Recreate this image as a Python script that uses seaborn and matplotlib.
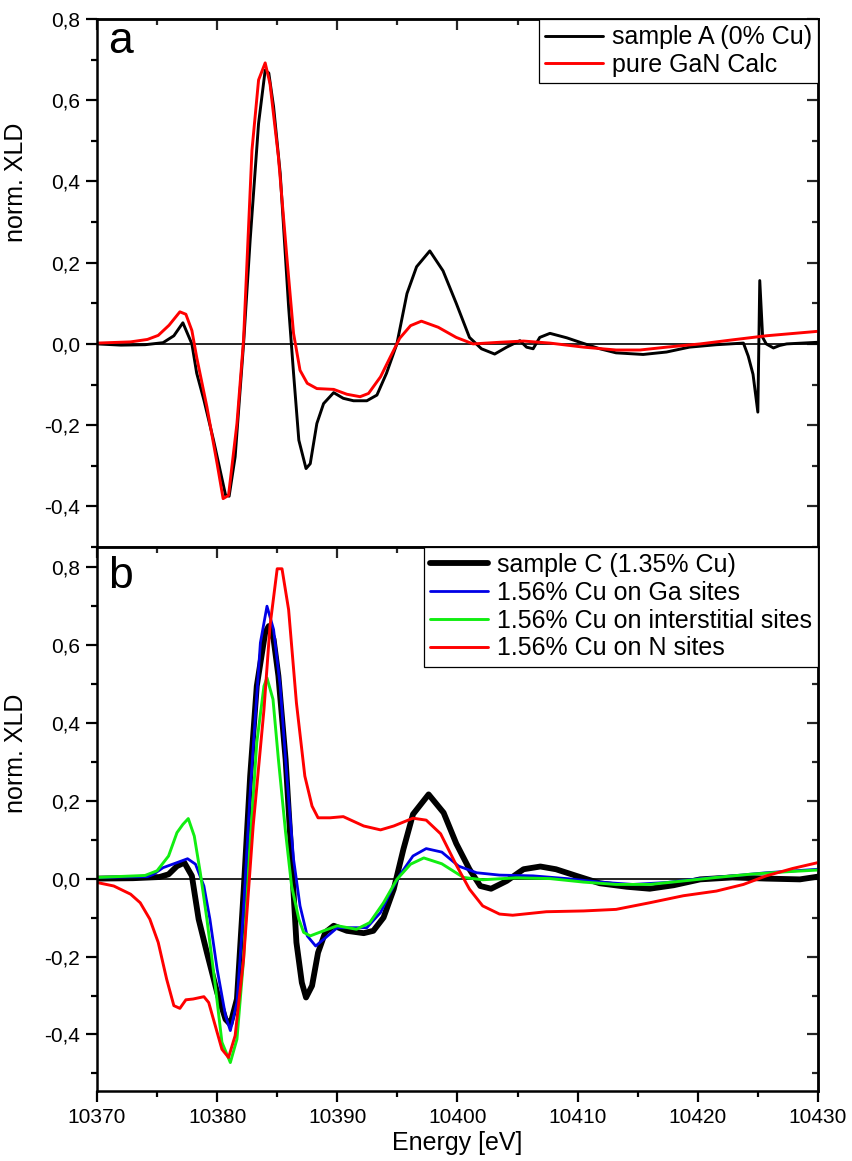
import seaborn as sns
import matplotlib.pyplot as plt
from matplotlib.ticker import MultipleLocator, FuncFormatter, NullFormatter

# panel a: sample A vs pure GaN calculation
energy_a = [10370, 10372, 10374, 10375.5, 10376.4, 10377.15, 10377.9, 10378.3, 10378.9, 10379.7,
            10380.7, 10381.0, 10381.5, 10382.2, 10382.75, 10383.45, 10384.0, 10384.3, 10384.7, 10385.25,
            10385.95, 10386.36, 10386.8, 10387.4, 10387.75, 10388.3, 10388.86, 10389.7, 10390.5, 10391.35,
            10392.46, 10393.3, 10394.1, 10394.96, 10395.8, 10396.6, 10397.7, 10398.8, 10399.9, 10401.0,
            10402.0, 10403.1, 10404.1, 10405.2, 10405.75, 10406.3, 10406.85, 10407.7, 10409.1, 10410.2,
            10411.85, 10413.2, 10415.45, 10417.4, 10419.3, 10421.55, 10423.8, 10424.2, 10424.6, 10425.0,
            10425.16, 10425.4, 10425.7, 10426.3, 10426.8, 10427.4, 10430]
sample_a = [0.0, -0.003, -0.002, 0.003, 0.02, 0.052, 0.0, -0.072, -0.138, -0.237,
            -0.372, -0.375, -0.278, 0.0, 0.256, 0.543, 0.674, 0.667, 0.584, 0.42,
            0.091, -0.072, -0.237, -0.307, -0.295, -0.196, -0.147, -0.12, -0.134, -0.14,
            -0.14, -0.126, -0.072, 0.0, 0.124, 0.19, 0.229, 0.18, 0.1, 0.016,
            -0.012, -0.025, -0.008, 0.008, -0.008, -0.012, 0.016, 0.026, 0.015, 0.004,
            -0.012, -0.022, -0.026, -0.02, -0.008, -0.002, 0.002, -0.03, -0.075, -0.168,
            0.156, 0.016, 0.0, -0.01, -0.004, 0.0, 0.004]

energy_gan = [10370, 10372.8, 10374.2, 10375.1, 10376.0, 10376.9, 10377.4, 10377.9, 10378.3, 10379.15,
              10380.0, 10380.5, 10380.95, 10381.65, 10382.2, 10382.9, 10383.45, 10384.0, 10384.4, 10385.1,
              10385.8, 10386.36, 10386.9, 10387.5, 10388.3, 10389.7, 10390.8, 10391.9, 10392.6, 10393.6,
              10394.4, 10395.2, 10396.1, 10397.0, 10398.4, 10399.9, 10401.3, 10403.5, 10405.5, 10407.7,
              10410.5, 10413.2, 10415.2, 10417.4, 10420.2, 10422.9, 10425.7, 10430]
gan_calc = [0.002, 0.005, 0.011, 0.021, 0.046, 0.079, 0.073, 0.033, -0.033, -0.155,
            -0.295, -0.381, -0.373, -0.196, 0.01, 0.477, 0.65, 0.692, 0.641, 0.461,
            0.215, 0.026, -0.065, -0.097, -0.11, -0.112, -0.124, -0.13, -0.122, -0.081,
            -0.033, 0.014, 0.045, 0.056, 0.041, 0.016, 0.0, 0.004, 0.007, 0.002,
            -0.008, -0.015, -0.015, -0.008, 0.0, 0.01, 0.02, 0.031]

# panel b: sample C vs Cu site calculations
energy_c = [10370, 10373, 10375.2, 10375.96, 10376.66, 10377.27, 10377.9, 10378.46, 10379.15, 10380.0,
            10380.7, 10381.1, 10381.65, 10382.2, 10382.75, 10383.3, 10384.0, 10384.3, 10384.7, 10385.1,
            10385.7, 10386.2, 10386.6, 10387.05, 10387.4, 10387.9, 10388.4, 10389.0, 10389.7, 10390.8,
            10392.2, 10393.0, 10393.85, 10394.7, 10395.5, 10396.3, 10397.6, 10398.85, 10399.9, 10401.0,
            10401.9, 10402.8, 10404.1, 10405.5, 10406.9, 10408.2, 10409.9, 10411.85, 10414.1, 10416.0,
            10418.0, 10420.2, 10422.9, 10425.7, 10428.5, 10430]
sample_c = [0.0, 0.001, 0.004, 0.011, 0.032, 0.041, 0.007, -0.104, -0.19, -0.292,
            -0.361, -0.374, -0.309, -0.036, 0.263, 0.494, 0.631, 0.648, 0.614, 0.52,
            0.306, 0.05, -0.164, -0.267, -0.305, -0.275, -0.19, -0.138, -0.121, -0.134,
            -0.14, -0.134, -0.1, -0.027, 0.075, 0.165, 0.216, 0.169, 0.09, 0.024,
            -0.019, -0.026, -0.006, 0.024, 0.031, 0.024, 0.007, -0.012, -0.021, -0.026,
            -0.017, -0.002, 0.003, 0.0, -0.002, 0.005]

energy_ga = [10370, 10374.2, 10374.7, 10375.5, 10376.66, 10377.54, 10378.2, 10378.9, 10379.4, 10380.0,
             10380.7, 10381.1, 10381.65, 10382.2, 10382.75, 10383.6, 10384.15, 10384.7, 10385.25, 10385.8,
             10386.36, 10386.9, 10387.5, 10388.2, 10388.86, 10390.0, 10391.35, 10392.46, 10393.6, 10394.4,
             10395.2, 10396.3, 10397.4, 10398.7, 10400.1, 10401.6, 10403.5, 10406.3, 10409.1, 10411.85,
             10414.6, 10417.4, 10420.2, 10422.9, 10425.7, 10430]
cu_ga = [0.003, 0.005, 0.011, 0.028, 0.041, 0.051, 0.037, -0.019, -0.104, -0.232,
         -0.352, -0.39, -0.318, -0.079, 0.221, 0.605, 0.699, 0.639, 0.494, 0.263,
         0.05, -0.07, -0.147, -0.173, -0.156, -0.126, -0.126, -0.126, -0.087, -0.036,
         0.009, 0.058, 0.077, 0.068, 0.032, 0.015, 0.009, 0.007, 0.0, -0.009,
         -0.015, -0.01, 0.0, 0.007, 0.015, 0.024]

energy_int = [10370, 10374.0, 10375.0, 10375.96, 10376.66, 10377.15, 10377.6, 10378.1, 10378.6, 10379.15,
              10379.85, 10380.4, 10381.1, 10381.65, 10382.2, 10382.75, 10383.3, 10383.9, 10384.15, 10384.65,
              10385.1, 10385.7, 10386.2, 10386.8, 10387.2, 10387.75, 10388.86, 10390.0, 10391.6, 10392.7,
              10393.85, 10394.96, 10396.1, 10397.2, 10398.7, 10400.5, 10402.1, 10404.9, 10407.7, 10410.5,
              10413.2, 10416.0, 10418.8, 10421.55, 10424.3, 10427.1, 10430]
cu_int = [0.003, 0.008, 0.02, 0.058, 0.118, 0.139, 0.154, 0.109, 0.015, -0.104,
          -0.275, -0.42, -0.472, -0.412, -0.207, 0.092, 0.349, 0.494, 0.515, 0.46,
          0.306, 0.118, -0.019, -0.104, -0.138, -0.147, -0.134, -0.121, -0.13, -0.113,
          -0.062, -0.002, 0.037, 0.053, 0.038, 0.003, -0.003, 0.002, 0.0, -0.009,
          -0.015, -0.015, -0.006, 0.003, 0.011, 0.017, 0.022]

energy_n = [10370, 10371.4, 10372.8, 10373.6, 10374.4, 10375.1, 10375.8, 10376.4, 10376.9, 10377.4,
            10378.0, 10378.9, 10379.3, 10379.85, 10380.4, 10380.95, 10381.5, 10382.2, 10383.0, 10383.9,
            10384.4, 10385.0, 10385.4, 10385.95, 10386.6, 10387.3, 10387.9, 10388.4, 10389.4, 10390.5,
            10392.2, 10393.6, 10394.7, 10396.3, 10397.4, 10398.6, 10399.9, 10401.0, 10402.1, 10403.5,
            10404.6, 10407.4, 10410.5, 10413.2, 10416.0, 10418.8, 10421.55, 10423.8, 10425.7, 10427.9,
            10430]
cu_n = [-0.01, -0.019, -0.04, -0.062, -0.104, -0.164, -0.258, -0.326, -0.333, -0.311,
        -0.309, -0.303, -0.318, -0.378, -0.438, -0.459, -0.403, -0.207, 0.135, 0.434,
        0.648, 0.795, 0.795, 0.69, 0.451, 0.263, 0.186, 0.156, 0.156, 0.159,
        0.135, 0.125, 0.135, 0.155, 0.15, 0.115, 0.035, -0.027, -0.07, -0.091,
        -0.094, -0.085, -0.083, -0.079, -0.062, -0.044, -0.032, -0.015, 0.007, 0.026,
        0.041]

RED = '#ff0000'
BLUE = '#0000e6'
GREEN = '#11ee11'


def comma_fmt(v, pos):
    if abs(v) < 1e-9:
        v = 0.0
    return f"{v:.1f}".replace('.', ',')


def style_axis(ax, ylim, show_x):
    ax.set_xlim(10370, 10430)
    ax.set_ylim(*ylim)
    ax.xaxis.set_major_locator(MultipleLocator(10))
    ax.xaxis.set_minor_locator(MultipleLocator(5))
    ax.yaxis.set_major_locator(MultipleLocator(0.2))
    ax.yaxis.set_minor_locator(MultipleLocator(0.1))
    ax.yaxis.set_major_formatter(FuncFormatter(comma_fmt))
    ax.tick_params(which='both', direction='out', width=1.6, labelsize=15, pad=4, colors='black')
    ax.tick_params(which='major', length=8)
    ax.tick_params(which='minor', length=4.5)
    for s in ax.spines.values():
        s.set_visible(True)
        s.set_linewidth(1.8)
        s.set_color('black')
    if not show_x:
        ax.tick_params(axis='x', which='both', bottom=False, labelbottom=False)

    # Origin-style mirrored ticks, pointing inwards on top and right
    top = ax.secondary_xaxis('top')
    top.xaxis.set_major_locator(MultipleLocator(10))
    top.xaxis.set_minor_locator(MultipleLocator(5))
    top.xaxis.set_major_formatter(NullFormatter())
    top.tick_params(which='both', direction='in', width=1.6)
    top.tick_params(which='major', length=8)
    top.tick_params(which='minor', length=4.5)
    top.spines['top'].set_linewidth(1.8)

    right = ax.secondary_yaxis('right')
    right.yaxis.set_major_locator(MultipleLocator(0.2))
    right.yaxis.set_minor_locator(MultipleLocator(0.1))
    right.yaxis.set_major_formatter(NullFormatter())
    right.tick_params(which='both', direction='in', width=1.6)
    right.tick_params(which='major', length=8)
    right.tick_params(which='minor', length=4.5)
    right.spines['right'].set_linewidth(1.8)

    ax.axhline(0, color='black', lw=1.2, zorder=1)


def add_legend(ax):
    leg = ax.legend(loc='upper right', frameon=True, fancybox=False, edgecolor='black',
                    framealpha=1, borderaxespad=0, fontsize=18, handlelength=2.3,
                    handletextpad=0.35, borderpad=0.25, labelspacing=0.15)
    leg.get_frame().set_linewidth(0.9)


def main():
    sns.set_style('ticks')
    plt.rcParams['font.family'] = ['Liberation Sans', 'DejaVu Sans']
    plt.rcParams['text.color'] = 'black'
    plt.rcParams['axes.labelcolor'] = 'black'

    fig = plt.figure(figsize=(8.52, 11.61), dpi=100)
    ax_a = fig.add_axes([0.1138, 0.5289, 0.8462, 0.4547])
    ax_b = fig.add_axes([0.1138, 0.0603, 0.8462, 0.4686])

    sns.lineplot(x=energy_a, y=sample_a, ax=ax_a, color='black', linewidth=2.1,
                 label='sample A (0% Cu)', sort=False, estimator=None)
    sns.lineplot(x=energy_gan, y=gan_calc, ax=ax_a, color=RED, linewidth=2.1,
                 label='pure GaN Calc', sort=False, estimator=None)

    sns.lineplot(x=energy_c, y=sample_c, ax=ax_b, color='black', linewidth=4.2,
                 label='sample C (1.35% Cu)', sort=False, estimator=None)
    sns.lineplot(x=energy_ga, y=cu_ga, ax=ax_b, color=BLUE, linewidth=2.0,
                 label='1.56% Cu on Ga sites', sort=False, estimator=None)
    sns.lineplot(x=energy_int, y=cu_int, ax=ax_b, color=GREEN, linewidth=2.1,
                 label='1.56% Cu on interstitial sites', sort=False, estimator=None)
    sns.lineplot(x=energy_n, y=cu_n, ax=ax_b, color=RED, linewidth=2.1,
                 label='1.56% Cu on N sites', sort=False, estimator=None)

    style_axis(ax_a, (-0.5, 0.8), show_x=False)
    style_axis(ax_b, (-0.545, 0.851), show_x=True)
    add_legend(ax_a)
    add_legend(ax_b)

    for ax, letter, yb, ly in [(ax_a, 'a', 0.9356, 0.69), (ax_b, 'b', 0.9246, 0.62)]:
        ax.text(0.015, yb, letter, transform=ax.transAxes, fontsize=32, va='baseline')
        ax.set_ylabel('norm. XLD', fontsize=18)
        ax.yaxis.set_label_coords(-0.096, ly)
        ax.set_xlabel('')

    ax_b.set_xlabel('Energy [eV]', fontsize=18, labelpad=3)

    fig.savefig('out.png', dpi=100)
    plt.close(fig)


if __name__ == '__main__':
    main()
